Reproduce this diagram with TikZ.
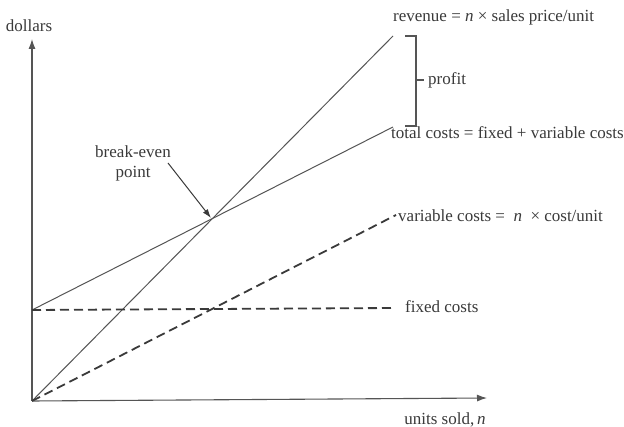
\documentclass[tikz,border=0pt]{standalone}
\usepackage{fontspec}
\setmainfont{Liberation Serif}
\usetikzlibrary{arrows.meta}
\definecolor{ink}{HTML}{3A3A3A}
\definecolor{linegray}{HTML}{555555}
\tikzset{
  axis/.style={draw=linegray, line width=1.1pt, -{Latex[length=10pt,width=7pt]}},
  solidline/.style={draw=linegray, line width=1pt},
  dashline/.style={draw=ink, line width=1.8pt, dash pattern=on 9pt off 5pt},
  lbl/.style={text=ink, font=\fontsize{17}{19}\selectfont, inner sep=0pt},
  bracket/.style={draw=linegray, line width=1.1pt}
}
\begin{document}
\begin{tikzpicture}[x=1pt, y=-1pt]
  \useasboundingbox (0,0) rectangle (624,427);
  \fill[white] (0,0) rectangle (624,427);

  % axes
  \coordinate (O) at (32,401);
  \coordinate (ytop) at (32,39);
  \coordinate (xend) at (487,398);
  \draw[axis] (O) -- (ytop);
  \draw[axis] (O) -- (xend);

  % end points of the lines
  \coordinate (F0) at (32,310);
  \coordinate (F1) at (395,308);
  \coordinate (R1) at (393,36);
  \coordinate (T1) at (393,127);
  \coordinate (V1) at (396,215);

  \draw[solidline] (O) -- (R1);
  \draw[solidline] (F0) -- (T1);
  \draw[dashline] (F0) -- (F1);
  \draw[dashline] (O) -- (V1);

  % labels
  \node[lbl] (dollars) at (29,26) {dollars};
  \node[lbl, anchor=west] (rev) at (393,17) {revenue = \textit{n} × sales price/unit};
  \node[lbl, anchor=west] (tot) at (391,133) {total costs = fixed + variable costs};
  \node[lbl, anchor=west] (var) at (398,216) {variable costs = \ \textit{n} \ × cost/unit};
  \node[lbl, anchor=west] (fix) at (405,307) {fixed costs};
  \node[lbl] (units) at (445,420) {units sold,\,\textit{n}};

  % profit bracket
  \coordinate (b1) at (405,36);
  \coordinate (b2) at (416,36);
  \coordinate (b3) at (416,126);
  \coordinate (b4) at (405,126);
  \coordinate (bm) at (416,80);
  \coordinate (bt) at (424,80);
  \draw[bracket] (b1) -- (b2) -- (b3) -- (b4);
  \draw[bracket] (bm) -- (bt);
  \node[lbl, anchor=west] (profit) at (428,80) {profit};

  % break-even point
  \coordinate (BE) at (211,218);
  \node[lbl, align=center] (be) at (133,163) {break-even\\[1pt]point};
  \draw[draw=ink, line width=1pt, -{Latex[length=9pt,width=6pt]}] (168,163) -- (BE);
\end{tikzpicture}
\end{document}
